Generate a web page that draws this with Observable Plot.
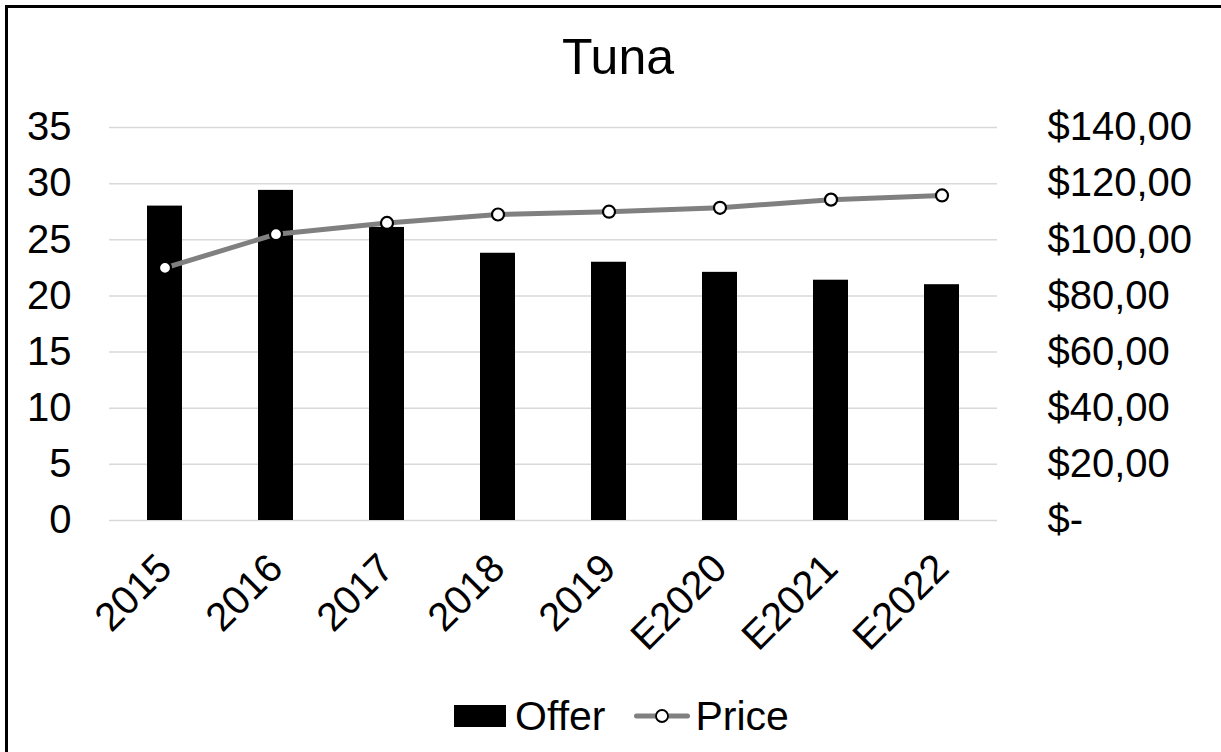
<!DOCTYPE html>
<html>
<head>
<meta charset="utf-8">
<script src="https://cdn.jsdelivr.net/npm/d3@7"></script>
<script src="https://cdn.jsdelivr.net/npm/@observablehq/plot@0.6"></script>
<style>
  html, body { margin: 0; padding: 0; background: #fff; }
  #frame {
    position: relative; width: 1221px; height: 752px; overflow: hidden;
    font-family: "Liberation Sans", Arial, sans-serif; color: #000; background: #fff;
  }
  #edge {
    position: absolute; left: 5px; top: 5px; width: 1400px; height: 1000px;
    border-left: 3px solid #000; border-top: 3px solid #000;
  }
  #title {
    position: absolute; left: 0; top: 32px; width: 1236px; text-align: center;
    font-size: 50px; line-height: 50px;
  }
  #chart { position: absolute; left: 0; top: 100px; }
  #legend {
    position: absolute; left: 0; top: 691px; width: 1243px; height: 50px;
    display: flex; justify-content: center; align-items: center;
    font-size: 41px; line-height: 50px;
  }
  .item { display: flex; align-items: center; }
  .swatch { display: inline-block; width: 52px; height: 22px; background: #000; margin-right: 9px; }
  .item + .item { margin-left: 29px; }
  .item svg { margin-right: 5px; }
</style>
</head>
<body>
<div id="frame">
  <div id="edge"></div>
  <div id="title">Tuna</div>
  <div id="chart"></div>
  <div id="legend">
    <span class="item"><span class="swatch"></span>Offer</span>
    <span class="item">
      <svg width="56" height="16" viewBox="0 0 56 16">
        <line x1="2.5" y1="8" x2="53.5" y2="8" stroke="#808080" stroke-width="5" stroke-linecap="round"></line>
        <circle cx="28" cy="8" r="6" fill="#fff" stroke="#000" stroke-width="1.8"></circle>
      </svg>Price
    </span>
  </div>
</div>
<script>
// Yearly tuna offer (left axis) and price (right axis); E = estimate
const years = ["2015", "2016", "2017", "2018", "2019", "E2020", "E2021", "E2022"];
const offer = [28.0, 29.4, 26.1, 23.8, 23.0, 22.1, 21.4, 21.0];
const price = [90.0, 102.0, 106.0, 109.0, 110.0, 111.4, 114.3, 115.8];

// Left axis ticks and the matching right-axis price labels
const offerTicks = [0, 5, 10, 15, 20, 25, 30, 35];
const priceTickLabels = ["$-", "$20,00", "$40,00", "$60,00", "$80,00", "$100,00", "$120,00", "$140,00"];

// Price axis spans 0–140 against the offer axis 0–35
const priceMax = 140;
const offerMax = 35;
const priceToOffer = offerMax / priceMax;

const rows = years.map((year, i) => ({year, offer: offer[i], price: price[i]}));

const chart = Plot.plot({
  width: 1221,
  height: 560,
  marginTop: 27,
  marginBottom: 140,
  marginLeft: 109,
  marginRight: 224,
  style: {fontFamily: '"Liberation Sans", Arial, sans-serif', fontSize: "40px", color: "#000", background: "transparent"},
  x: {domain: years, padding: 0},
  y: {domain: [0, offerMax]},
  marks: [
    Plot.gridY(offerTicks, {stroke: "#d9d9d9", strokeOpacity: 1, strokeWidth: 1.5}),
    Plot.barY(rows, {x: "year", y: "offer", fill: "#000", insetLeft: 38, insetRight: 38}),
    Plot.lineY(rows, {x: "year", y: d => d.price * priceToOffer, stroke: "#808080", strokeWidth: 5}),
    Plot.dot(rows, {x: "year", y: d => d.price * priceToOffer, r: 6, fill: "#fff", stroke: "#000", strokeWidth: 2.2}),
    Plot.axisY(offerTicks, {anchor: "left", label: null, tickSize: 0, tickPadding: 38, fontSize: 40}),
    Plot.axisY(offerTicks, {
      anchor: "right", label: null, tickSize: 0, tickPadding: 50, fontSize: 40,
      tickFormat: d => priceTickLabels[offerTicks.indexOf(d)]
    }),
    Plot.axisX({anchor: "bottom", label: null, tickSize: 0, tickPadding: 41, tickRotate: -45, fontSize: 40})
  ]
});
document.getElementById("chart").appendChild(chart);
</script>
</body>
</html>
